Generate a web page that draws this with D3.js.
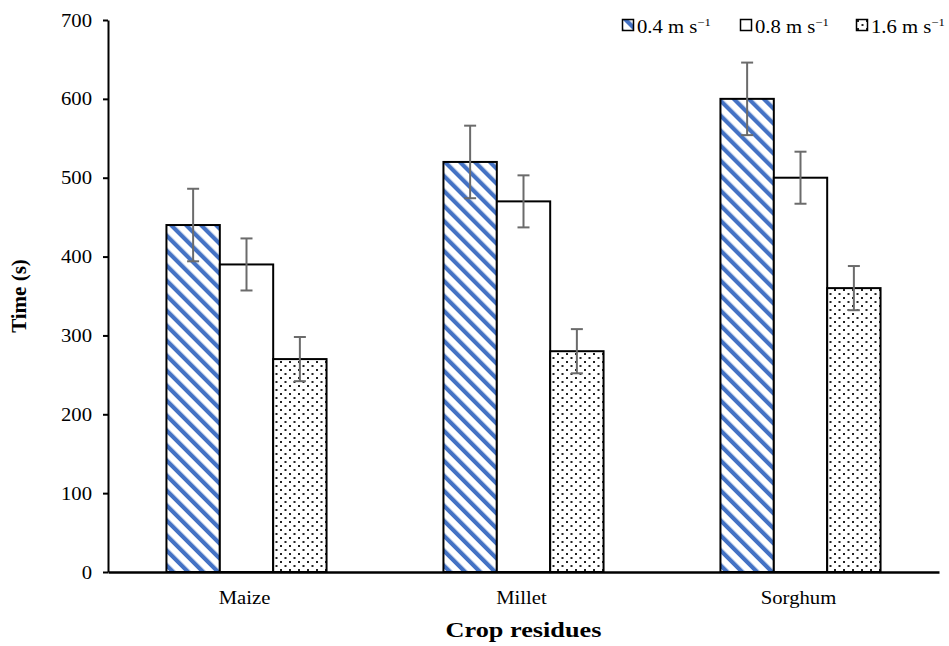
<!DOCTYPE html>
<html>
<head>
<meta charset="utf-8">
<script src="https://cdnjs.cloudflare.com/ajax/libs/d3/7.8.5/d3.min.js"></script>
<style>
  body { margin: 0; background: #fff; }
  text { font-family: "Liberation Serif", "Times New Roman", serif; fill: #000; }
</style>
</head>
<body>
<div id="chart"></div>
<script>
// chart data
const categories = ["Maize", "Millet", "Sorghum"];
const series = ["0.4", "0.8", "1.6"];
const values_04 = [440, 520, 600];
const values_08 = [390, 470, 500];
const values_16 = [270, 280, 360];
const err_04 = [46, 46, 46];
const err_08 = [33, 33, 33];
const err_16 = [28, 28, 28];
const y_ticks = [0, 100, 200, 300, 400, 500, 600, 700];

const width = 949, height = 646;
const margin = { left: 108, right: 10, top: 20, bottom: 74 };
const sx = 1.15;   // the reference text is slightly stretched sideways
const fs = 18;

const svg = d3.select("#chart").append("svg")
    .attr("width", width).attr("height", height);

// fill patterns
const defs = svg.append("defs");
const hatch = defs.append("pattern").attr("id", "hatch")
    .attr("patternUnits", "userSpaceOnUse")
    .attr("width", 10.6).attr("height", 10.6)
    .attr("patternTransform", "rotate(-45)");
hatch.append("rect").attr("width", 10.6).attr("height", 10.6).attr("fill", "#fff");
hatch.append("rect").attr("width", 4.2).attr("height", 10.6).attr("fill", "#4472c4");

defs.append("pattern").attr("id", "plain")
    .attr("patternUnits", "userSpaceOnUse").attr("width", 4).attr("height", 4)
    .append("rect").attr("width", 4).attr("height", 4).attr("fill", "#fff");

const dots = defs.append("pattern").attr("id", "dots")
    .attr("patternUnits", "userSpaceOnUse").attr("width", 9).attr("height", 8);
dots.append("rect").attr("width", 9).attr("height", 8).attr("fill", "#fff");
dots.append("rect").attr("x", 1).attr("y", 1).attr("width", 2).attr("height", 2).attr("fill", "#222");
dots.append("rect").attr("x", 5.5).attr("y", 5).attr("width", 2).attr("height", 2).attr("fill", "#222");

const fills = { "0.4": "url(#hatch)", "0.8": "url(#plain)", "1.6": "url(#dots)" };

const data = categories.map((c, i) => ({
    cat: c,
    bars: [
        { s: "0.4", v: values_04[i], e: err_04[i] },
        { s: "0.8", v: values_08[i], e: err_08[i] },
        { s: "1.6", v: values_16[i], e: err_16[i] }
    ]
}));

const x0 = d3.scaleBand().domain(categories)
    .range([margin.left, width - margin.right]).padding(0);
const groupW = x0.bandwidth() * 0.578;
const x1 = d3.scaleBand().domain(series)
    .range([(x0.bandwidth() - groupW) / 2, (x0.bandwidth() + groupW) / 2]).padding(0);
const y = d3.scaleLinear().domain([0, 700]).range([height - margin.bottom, margin.top]);

// bars
const groups = svg.append("g").selectAll("g")
    .data(data).enter().append("g")
    .attr("transform", d => `translate(${x0(d.cat)},0)`);

groups.selectAll("rect")
    .data(d => d.bars).enter().append("rect")
    .attr("x", d => x1(d.s))
    .attr("y", d => y(d.v))
    .attr("width", x1.bandwidth())
    .attr("height", d => y(0) - y(d.v))
    .attr("fill", d => fills[d.s])
    .attr("stroke", "#000")
    .attr("stroke-width", 2);

// error bars
const eb = groups.selectAll(".err")
    .data(d => d.bars).enter().append("g").attr("class", "err")
    .attr("stroke", "#6b6b6b").attr("stroke-width", 2);
eb.append("line")
    .attr("x1", d => x1(d.s) + x1.bandwidth() / 2)
    .attr("x2", d => x1(d.s) + x1.bandwidth() / 2)
    .attr("y1", d => y(d.v + d.e)).attr("y2", d => y(d.v - d.e));
eb.append("line")
    .attr("x1", d => x1(d.s) + x1.bandwidth() / 2 - 6)
    .attr("x2", d => x1(d.s) + x1.bandwidth() / 2 + 6)
    .attr("y1", d => y(d.v + d.e)).attr("y2", d => y(d.v + d.e));
eb.append("line")
    .attr("x1", d => x1(d.s) + x1.bandwidth() / 2 - 6)
    .attr("x2", d => x1(d.s) + x1.bandwidth() / 2 + 6)
    .attr("y1", d => y(d.v - d.e)).attr("y2", d => y(d.v - d.e));

// y axis
const yAxis = svg.append("g")
    .attr("transform", `translate(${margin.left},0)`)
    .call(d3.axisLeft(y).tickValues(y_ticks).tickSize(5).tickSizeOuter(0));
yAxis.select(".domain").attr("stroke", "#000").attr("stroke-width", 2);
yAxis.selectAll(".tick line").attr("stroke", "#000").attr("stroke-width", 2);
yAxis.selectAll(".tick text")
    .attr("x", null).attr("dy", "0.34em")
    .attr("transform", `translate(-16,0) scale(${sx},1)`)
    .style("font-family", "Liberation Serif").style("font-size", fs + "px");

// x axis
const xAxis = svg.append("g")
    .attr("transform", `translate(0,${y(0)})`)
    .call(d3.axisBottom(x0).tickSize(0).tickSizeOuter(0));
xAxis.select(".domain").attr("stroke", "#000").attr("stroke-width", 2.5);
xAxis.selectAll(".tick text")
    .attr("y", null).attr("dy", null)
    .attr("transform", `translate(-2,32) scale(${sx},1)`)
    .style("font-family", "Liberation Serif").style("font-size", fs + "px");

// axis titles
svg.append("text")
    .attr("transform", `translate(${(margin.left + width - margin.right) / 2},637) scale(1.25,1)`)
    .attr("text-anchor", "middle")
    .style("font-size", "21px").style("font-weight", "bold")
    .text("Crop residues");

svg.append("text")
    .attr("transform", `translate(26,${(y(0) + y(700)) / 2}) rotate(-90)`)
    .attr("text-anchor", "middle")
    .style("font-size", "21px").style("font-weight", "bold")
    .text("Time (s)");

// legend
const legendX = [622, 740, 856];
const legend = svg.append("g").selectAll("g")
    .data(series).enter().append("g")
    .attr("transform", (d, i) => `translate(${legendX[i]},19)`);
legend.append("rect")
    .attr("x", 0.5).attr("y", 0.5).attr("width", 11).attr("height", 11)
    .attr("fill", d => fills[d]).attr("stroke", "#000").attr("stroke-width", 1.5);
const lt = legend.append("text")
    .attr("transform", `translate(15,13.5) scale(${sx},1)`)
    .style("font-size", fs + "px");
lt.append("tspan").text(d => d + " m s");
lt.append("tspan").attr("dy", -7).style("font-size", "11px").text("\u22121");
</script>
</body>
</html>
